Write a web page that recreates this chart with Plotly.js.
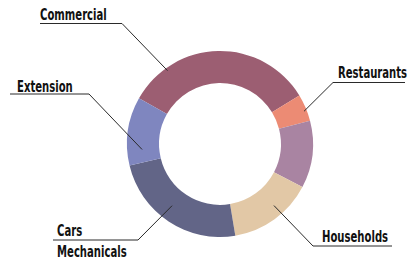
<!DOCTYPE html>
<html>
<head>
<meta charset="utf-8">
<script src="https://cdn.plot.ly/plotly-3.0.1.min.js"></script>
<style>html,body{margin:0;padding:0;background:#fff;}#chart{width:419px;height:263px;}</style>
</head>
<body>
<div id="chart"></div>
<script>
// ---- data ----
const categories = ["Commercial", "Restaurants", "Other", "Households", "Cars Mechanicals", "Extension"];
const values = [33.1, 4.7, 11.7, 14.7, 23.9, 11.9];
const colors = ["#9c5e72", "#ec8b74", "#a984a2", "#e2c8a6", "#626587", "#7f86bf"];

// ---- layout constants (pixels) ----
const W = 419, H = 263;
const CX = 220, CY = 144, R = 93;
const HOLE = 0.655;
const START_ANGLE = -60.6; // degrees, clockwise from 12 o'clock
const TEXT_SCALE_X = 0.7;

// label config
const labelCfg = [
  {idx: 0, frac: 0.21, rf: 0.97, elbow: [122, 23.5], end: [40, 23.5], lines: ["Commercial"], tx: 38, ty: 14},
  {idx: 1, frac: 0.6, rf: 0.97, elbow: [333, 82.5], end: [405, 82.5], lines: ["Restaurants"], tx: 336, ty: 72},
  {idx: 3, frac: 0.4, rf: 0.88, elbow: [313, 246], end: [392, 246], lines: ["Households"], tx: 320, ty: 236},
  {idx: 4, frac: 0.55, rf: 0.84, elbow: [138, 240], end: [53, 240], lines: ["Cars", "Mechanicals"], tx: 55, ty: 230},
  {idx: 5, frac: 0.22, rf: 0.84, elbow: [89, 94], end: [10, 94], lines: ["Extension"], tx: 15, ty: 86}
];

const px = x => x / W;
const py = y => 1 - y / H;

const total = values.reduce((a, b) => a + b, 0);
function sliceAnchor(i, frac, rf) {
  let before = 0;
  for (let k = 0; k < i; k++) before += values[k];
  const deg = START_ANGLE + (before + frac * values[i]) / total * 360;
  const rad = deg * Math.PI / 180;
  return [CX + R * rf * Math.sin(rad), CY - R * rf * Math.cos(rad)];
}

const shapes = [];
const annotations = [];
const FONT = "'DejaVu Sans Condensed', 'DejaVu Sans', sans-serif";
labelCfg.forEach(c => {
  const a = sliceAnchor(c.idx, c.frac, c.rf);
  shapes.push({
    type: "path", xref: "paper", yref: "paper",
    path: `M ${px(a[0])} ${py(a[1])} L ${px(c.elbow[0])} ${py(c.elbow[1])} L ${px(c.end[0])} ${py(c.end[1])}`,
    line: {color: "#2a2a2a", width: 1}
  });
  c.lines.forEach((t, j) => {
    const y = j === 0 ? c.ty : c.ty + 21;
    annotations.push({
      text: "<b>" + t + "</b>", xref: "paper", yref: "paper",
      x: px(c.tx), y: py(y), xanchor: "left", yanchor: "middle",
      showarrow: false, font: {family: FONT, size: 16, color: "#111"}
    });
  });
});

const trace = {
  type: "pie",
  labels: categories,
  values: values,
  sort: false,
  direction: "clockwise",
  rotation: START_ANGLE,
  hole: HOLE,
  textinfo: "none",
  hoverinfo: "label+percent",
  marker: {colors: colors, line: {width: 0}},
  domain: {x: [px(CX - R), px(CX + R)], y: [py(CY + R), py(CY - R)]},
  showlegend: false
};

const layout = {
  width: W, height: H,
  margin: {l: 0, r: 0, t: 0, b: 0},
  paper_bgcolor: "#ffffff",
  plot_bgcolor: "#ffffff",
  showlegend: false,
  shapes: shapes,
  annotations: annotations
};

Plotly.newPlot("chart", [trace], layout, {displayModeBar: false, staticPlot: true}).then(gd => {
  // condense the label text horizontally, anchored at its left edge
  gd.querySelectorAll("text.annotation-text").forEach(t => {
    const bb = t.getBBox();
    const x0 = bb.x;
    t.setAttribute("transform", `translate(${x0},0) scale(${TEXT_SCALE_X},1) translate(${-x0},0)`);
  });
});
</script>
</body>
</html>
